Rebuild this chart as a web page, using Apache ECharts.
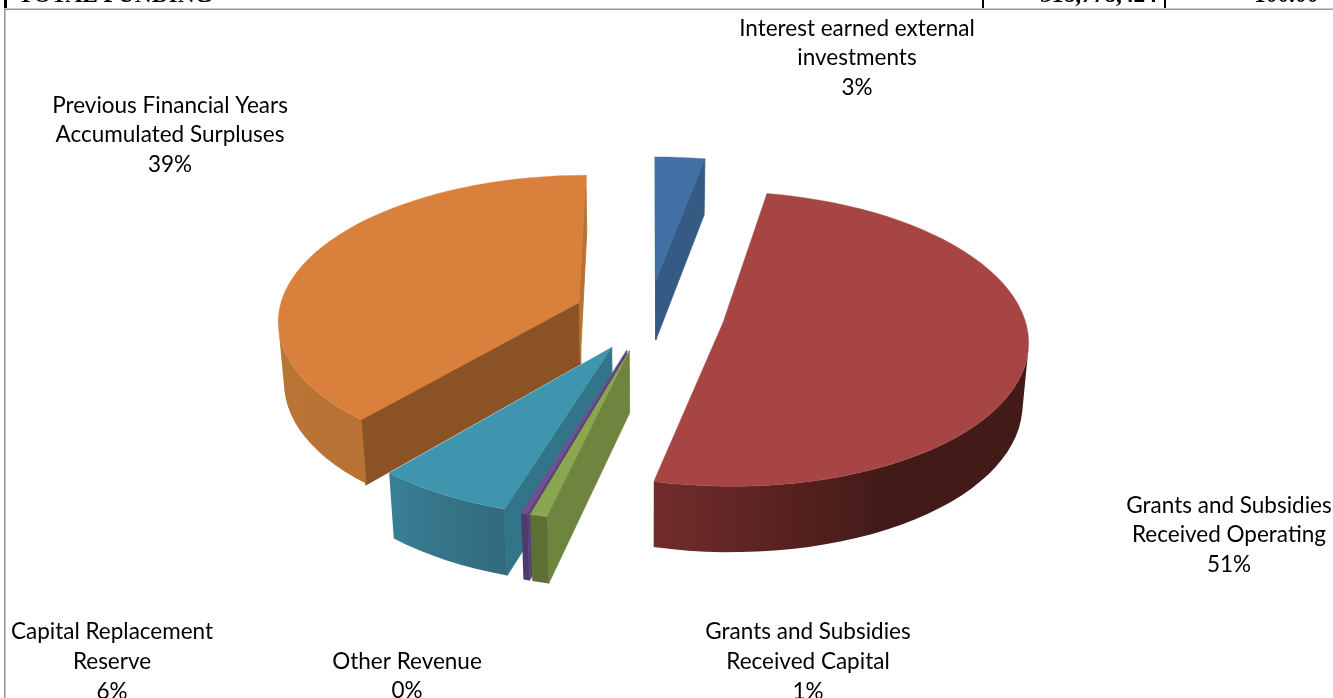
<!DOCTYPE html>
<html>
<head>
<meta charset="utf-8">
<style>html,body{margin:0;padding:0;background:#fff;overflow:hidden}#chart{width:1333px;height:698px}</style>
<script src="https://cdn.jsdelivr.net/npm/echarts@6/dist/echarts.min.js"></script>
</head>
<body>
<div id="chart"></div>
<script>
// Funding sources, in pie order starting at twelve o'clock.
const categories = [
  'Interest earned external\ninvestments',
  'Grants and Subsidies\nReceived Operating',
  'Grants and Subsidies\nReceived Capital',
  'Other Revenue',
  'Capital Replacement\nReserve',
  'Previous Financial Years\nAccumulated Surpluses'
];
const sharePercent = [3.0, 50.7, 0.8, 0.3, 6.45, 38.75];

// Slices are painted back to front.
const paintOrder = [0, 1, 5, 4, 3, 2];

// Centre of each data label block.
const labelCentres = [
  [857, 58.2], [1229, 535.2], [808, 661.7], [407, 676.2], [112, 661.7], [170, 135.2]
];

// Face colours: top, the two cut faces, and the outer wall as [t, colour] stops.
const faceColours = [
  { top: '#4371A6', startCut: '#355B85', endCut: '#355B85', wall: [[0, '#355B85'], [1, '#355B85']] },
  { top: '#A64543', startCut: '#6E2B2A', endCut: '#6E2B2A', wall: [[0, '#421A18'], [0.78, '#421A18'], [1, '#722C2B']] },
  { top: '#8AA64E', startCut: '#6F843E', endCut: '#6F843E', wall: [[0, '#5C7033'], [1, '#5C7033']] },
  { top: '#6F5095', startCut: '#5A4278', endCut: '#5A4278', wall: [[0, '#4F3A6C'], [1, '#4F3A6C']] },
  { top: '#3F95AE', startCut: '#337588', endCut: '#337588', wall: [[0, '#316A7C'], [1, '#3A8096']] },
  { top: '#D9813C', startCut: '#8A5225', endCut: '#B87234', cutEdge: 2.4, wall: [[0, '#B87234'], [0.5, '#BE7836'], [1, '#BC7636']] }
];

// Projection of the tilted pie onto the page.
const CENTRE_X = 649, CENTRE_Y = 315;
const RADIUS_X = 301, RADIUS_Y = 144, THICKNESS = 62;
const NEAR_GROWTH = 0.11, DEPTH_SHRINK = 0.016, EXPLODE = 0.25;

const TAU = Math.PI * 2;

function project(x, y, z) {
  const w = 1 / (1 - NEAR_GROWTH * y + DEPTH_SHRINK * z);
  return [CENTRE_X + RADIUS_X * x * w, CENTRE_Y + (RADIUS_Y * y + THICKNESS * z) * w];
}

function hexToRgb(hex) {
  return [1, 3, 5].map(function (i) { return parseInt(hex.substr(i, 2), 16); });
}

function colourAt(stops, t) {
  for (let i = 1; i < stops.length; i++) {
    if (t <= stops[i][0]) {
      const a = stops[i - 1], b = stops[i];
      const k = (t - a[0]) / ((b[0] - a[0]) || 1);
      const ca = hexToRgb(a[1]), cb = hexToRgb(b[1]);
      return 'rgb(' + ca.map(function (v, n) { return Math.round(v + (cb[n] - v) * k); }).join(',') + ')';
    }
  }
  return stops[stops.length - 1][1];
}

// Faces wind the same way, so a negative screen area means it looks at the viewer.
function facesViewer(points) {
  let area = 0;
  for (let i = 0; i < points.length; i++) {
    const p = points[i], q = points[(i + 1) % points.length];
    area += p[0] * q[1] - q[0] * p[1];
  }
  return area < 0;
}

function face(points, fill, z2, strokeWidth) {
  return {
    type: 'polygon', z2: z2, silent: true,
    shape: { points: points },
    style: { fill: fill, stroke: strokeWidth ? (fill.colorStops ? null : fill) : null, lineWidth: strokeWidth || 0 }
  };
}

// The visible part of the outer wall, as one polygon shaded from side to side.
function wallFace(quads, stops, z2) {
  const xs = quads.map(function (q) { return (q.points[0][0] + q.points[1][0]) / 2; });
  const minX = Math.min.apply(null, xs), maxX = Math.max.apply(null, xs);
  const span = (maxX - minX) || 1;
  const colourStops = quads.map(function (q, n) {
    return { offset: (xs[n] - minX) / span, color: colourAt(stops, q.t) };
  }).sort(function (a, b) { return a.offset - b.offset; });
  const upper = quads.map(function (q) { return q.points[0]; }).concat([quads[quads.length - 1].points[1]]);
  const lower = quads.map(function (q) { return q.points[3]; }).concat([quads[quads.length - 1].points[2]]).reverse();
  return face(upper.concat(lower), new echarts.graphic.LinearGradient(minX, 0, maxX, 0, colourStops, true), z2);
}

// Cumulative slice bounds, in share of the full circle.
let running = 0;
const sliceBounds = sharePercent.map(function (share) {
  const bounds = [running / 100, (running + share) / 100];
  running += share;
  return bounds;
});

const sliceData = paintOrder.map(function (i) {
  return [sliceBounds[i][0], sliceBounds[i][1], i];
});

function renderSlice(params, api) {
  const start = api.value(0) * TAU, end = api.value(1) * TAU, index = api.value(2);
  const colours = faceColours[index];
  const mid = (start + end) / 2;
  const offX = EXPLODE * Math.sin(mid), offY = -EXPLODE * Math.cos(mid);
  const rim = function (a, z) { return project(offX + Math.sin(a), offY - Math.cos(a), z); };
  const apexTop = project(offX, offY, 0), apexBottom = project(offX, offY, 1);
  const steps = Math.max(2, Math.ceil((end - start) / TAU * 120));
  const children = [];
  const order = params.dataIndex * 10;
  const cutEdge = colours.cutEdge || 0.8;

  const startCut = [apexTop, rim(start, 0), rim(start, 1), apexBottom];
  const endCut = [rim(end, 0), apexTop, apexBottom, rim(end, 1)];
  if (facesViewer(startCut)) children.push(face(startCut, colours.startCut, order, cutEdge));
  if (facesViewer(endCut)) children.push(face(endCut, colours.endCut, order, 0.8));

  const topOutline = [apexTop];
  const visibleQuads = [];
  for (let s = 0; s <= steps; s++) {
    const a = start + (end - start) * s / steps;
    topOutline.push(rim(a, 0));
    if (s < steps) {
      const b = start + (end - start) * (s + 1) / steps;
      const quad = [rim(a, 0), rim(b, 0), rim(b, 1), rim(a, 1)];
      if (facesViewer(quad)) visibleQuads.push({ points: quad, t: (s + 0.5) / steps });
    }
  }
  if (visibleQuads.length) children.push(wallFace(visibleQuads, colours.wall, order + 1));
  children.push(face(topOutline, colours.top, order + 2, 0.4));
  return { type: 'group', children: children };
}

const labelGraphics = categories.map(function (name, i) {
  return {
    type: 'text', silent: true,
    x: labelCentres[i][0], y: labelCentres[i][1],
    style: {
      text: name + '\n' + Math.round(sharePercent[i]) + '%',
      font: '22.5px Lato, sans-serif', fill: '#000',
      align: 'center', verticalAlign: 'middle', lineHeight: 29.6
    }
  };
});

// Remains of the table row that sits above the chart frame.
const tableCells = [
  { text: 'TOTAL FUNDING', x: 18, align: 'left' },
  { text: '318,778,424', x: 1157, align: 'right' },
  { text: '100.00', x: 1254, align: 'left' }
];

const frameGraphics = [
  { type: 'rect', silent: true, shape: { x: 4, y: 8.4, width: 1329, height: 1.6 }, style: { fill: '#999' } },
  { type: 'rect', silent: true, shape: { x: 4, y: 8.4, width: 1.6, height: 690 }, style: { fill: '#999' } },
  { type: 'rect', silent: true, shape: { x: 4, y: 0, width: 3, height: 8 }, style: { fill: '#000' } },
  { type: 'rect', silent: true, shape: { x: 982, y: 0, width: 2, height: 8 }, style: { fill: '#000' } },
  { type: 'rect', silent: true, shape: { x: 1164, y: 0, width: 2, height: 8 }, style: { fill: '#000' } }
].concat(tableCells.map(function (cell) {
  return {
    type: 'text', silent: true,
    x: cell.x, y: 7,
    style: {
      text: cell.text, font: 'bold 23.4px "Liberation Serif", serif', fill: '#000',
      align: cell.align, verticalAlign: 'bottom'
    }
  };
}));

const chart = echarts.init(document.getElementById('chart'), null, { renderer: 'canvas' });
chart.setOption({
  animation: false,
  backgroundColor: '#fff',
  graphic: frameGraphics.concat(labelGraphics),
  series: [{
    type: 'custom',
    coordinateSystem: 'none',
    renderItem: renderSlice,
    data: sliceData,
    silent: true
  }]
});
</script>
</body>
</html>
